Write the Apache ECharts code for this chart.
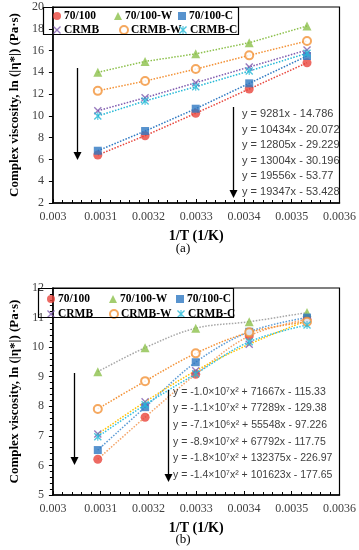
<!DOCTYPE html>
<html><head><meta charset="utf-8">
<script src="https://cdn.jsdelivr.net/npm/echarts@6/dist/echarts.min.js"></script>
<style>html,body{margin:0;padding:0;background:#fff}#c{width:359px;height:550px}</style>
</head><body><div id="c"></div>
<script>
// ---- data ----
const invT = [0.003094, 0.003193, 0.003299, 0.003411, 0.003532];
const seriesNames = ['70/100', '70/100-W', '70/100-C', 'CRMB', 'CRMB-W', 'CRMB-C'];
// chart (a)
const a_70100   = [6.41, 8.18, 10.24, 12.47, 14.88];
const a_70100W  = [14.0, 15.0, 15.7, 16.72, 18.25];
const a_70100C  = [6.80, 8.61, 10.66, 12.99, 15.50];
const a_CRMB    = [10.47, 11.67, 13.05, 14.49, 16.05];
const a_CRMBW   = [12.30, 13.20, 14.30, 15.56, 16.88];
const a_CRMBC   = [9.99, 11.37, 12.68, 14.12, 15.75];
// chart (b)
const b_70100   = [6.21, 7.63, 9.08, 10.38, 10.94];
const b_70100W  = [9.17, 9.98, 10.64, 10.86, 11.17];
const b_70100C  = [6.52, 7.97, 9.49, 10.52, 11.00];
const b_CRMB    = [7.06, 8.15, 9.20, 10.10, 10.90];
const b_CRMBW   = [7.91, 8.85, 9.79, 10.50, 10.86];
const b_CRMBC   = [6.97, 8.05, 9.10, 10.18, 10.75];
// equations
const eqA = ['y = 9281x - 14.786', 'y = 10434x - 20.072', 'y = 12805x - 29.229',
             'y = 13004x - 30.196', 'y = 19556x - 53.77', 'y = 19347x - 53.428'];
const eqB = ['y = -1.0×10⁷x² + 71667x - 115.33', 'y = -1.1×10⁷x² + 77289x - 129.38',
             'y = -7.1×10⁶x² + 55548x - 97.226', 'y = -8.9×10⁷x² + 67792x - 117.75',
             'y = -1.8×10⁷x² + 132375x - 226.97', 'y = -1.4×10⁷x² + 101623x - 177.65'];
const xTicks = {min: 0.003, max: 0.0036, interval: 0.0001};
const yTicksA = {min: 2, max: 20, interval: 2};
const yTicksB = {min: 5, max: 12, interval: 1};

// ---- styles ----
const XPATH = 'path://M0,1.2L1.2,0L5,3.8L8.8,0L10,1.2L6.2,5L10,8.8L8.8,10L5,6.2L1.2,10L0,8.8L3.8,5Z';
const STAR = 'path://M0,1.2L1.2,0L5,3.8L8.8,0L10,1.2L6.2,5L10,8.8L8.8,10L5,6.2L1.2,10L0,8.8L3.8,5Z M4.3,0L5.7,0L5.7,10L4.3,10Z';
const styles = {
  '70/100':   {color:'#E8453C', symbol:'circle', trendA:'#E8453C', trendB:'#F4A468'},
  '70/100-W': {color:'#8CC04B', symbol:'triangle', trendA:'#8CC04B', trendB:'#A6A6A6'},
  '70/100-C': {color:'#2E78C2', symbol:'rect', trendA:'#2E78C2', trendB:'#5B9BD5'},
  'CRMB':     {color:'#7E5AAE', symbol:XPATH, trendA:'#7E5AAE', trendB:'#FFC000'},
  'CRMB-W':   {color:'#F39237', symbol:'emptyCircle', trendA:'#F39237', trendB:'#F39237'},
  'CRMB-C':   {color:'#22B8D6', symbol:STAR, trendA:'#22B8D6', trendB:'#33C0E0'}
};
const dataA = {'70/100':a_70100,'70/100-W':a_70100W,'70/100-C':a_70100C,'CRMB':a_CRMB,'CRMB-W':a_CRMBW,'CRMB-C':a_CRMBC};
const dataB = {'70/100':b_70100,'70/100-W':b_70100W,'70/100-C':b_70100C,'CRMB':b_CRMB,'CRMB-W':b_CRMBW,'CRMB-C':b_CRMBC};

const serif = 'Liberation Serif';
const pair = arr => arr.map((v, i) => [invT[i], v]);

const series = [];
function addSeries(dataMap, gi, trendKey, smooth) {
  seriesNames.forEach(n => {
    const st = styles[n];
    series.push({type:'line', name:n + ' trend' + gi, xAxisIndex:gi, yAxisIndex:gi,
      data: pair(dataMap[n]), symbol:'none', smooth: smooth, z:2, silent:true,
      lineStyle:{color: st[trendKey], width:1.5, type:'dotted'}});
  });
  seriesNames.forEach(n => {
    const st = styles[n];
    const empty = st.symbol === 'emptyCircle';
    series.push({type:'scatter', name:n, xAxisIndex:gi, yAxisIndex:gi,
      data: pair(dataMap[n]), symbol: st.symbol,
      symbolSize: empty ? 8 : (st.symbol==='triangle' ? 9 : (st.symbol==='circle' ? 9 : 8)), z:5,
      itemStyle: empty ? {color: st.color, borderWidth:1.6} : {color: st.color}});
  });
}
addSeries(dataA, 0, 'trendA', false);
addSeries(dataB, 1, 'trendB', 0.35);

const legendStyle = {fontFamily: serif, fontWeight:'bold', fontSize:11.5, color:'#000'};
function legendItem(n, left, top) {
  const st = styles[n];
  const empty = st.symbol === 'emptyCircle';
  return {data:[{name:n, icon: st.symbol}],
    itemStyle: empty ? {color: st.color, borderColor: st.color, borderWidth:1.5} : {color: st.color},
    left:left, top:top, itemWidth:8, itemHeight:8, itemGap:4, padding:0,
    selectedMode:false, textStyle: Object.assign({padding:[0,0,0,-2]}, legendStyle)};
}
const legends = [
  legendItem('70/100', 53, 10), legendItem('70/100-W', 114, 10), legendItem('70/100-C', 178, 10),
  legendItem('CRMB', 53, 24), legendItem('CRMB-W', 119, 24), legendItem('CRMB-C', 179, 24),
  legendItem('70/100', 47, 293), legendItem('70/100-W', 109, 293), legendItem('70/100-C', 176, 293),
  legendItem('CRMB', 47, 308), legendItem('CRMB-W', 109, 308), legendItem('CRMB-C', 177, 308)
];

function xAxis(gi) {
  return {type:'value', gridIndex:gi, min:xTicks.min, max:xTicks.max, interval:xTicks.interval,
    name:'1/T (1/K)', nameLocation:'middle', nameGap: 26,
    nameTextStyle:{fontFamily:serif, fontWeight:'bold', fontSize:14, color:'#000'},
    axisLine:{lineStyle:{color:'#000', width:1.5}},
    axisTick:{inside:true, length:4, lineStyle:{color:'#000'}},
    minorTick:{show:true, splitNumber:5, length:3, lineStyle:{color:'#000'}},
    splitLine:{show:false},
    axisLabel:{fontFamily:serif, fontSize:12, color:'#404040', margin:8,
      formatter: v => String(Math.round(v*10000)/10000)}};
}
function yAxis(gi, t, minor) {
  return {type:'value', gridIndex:gi, min:t.min, max:t.max, interval:t.interval,
    name:'Complex viscosity, ln (|η*|) (Pa·s)', nameLocation:'middle', nameGap: gi===0?30:26,
    nameTextStyle:{fontFamily:serif, fontWeight:'bold', fontSize:13, color:'#000'},
    axisLine:{show:true, lineStyle:{color:'#000', width:1.5}},
    axisTick:{show:true, length:4, lineStyle:{color:'#000'}},
    minorTick:{show:minor, splitNumber:5, length:3, lineStyle:{color:'#000'}},
    splitLine:{show:false},
    axisLabel:{fontFamily:serif, fontSize:12, color:'#404040', margin:9}};
}

const graphics = [
  {type:'rect', shape:{x:43.5, y:7.5, width:195, height:27}, style:{fill:'none', stroke:'#000', lineWidth:1.2}, z:50},
  {type:'rect', shape:{x:38.5, y:288.5, width:195, height:29}, style:{fill:'none', stroke:'#000', lineWidth:1.2}, z:50},
  {type:'text', x:183, y:249, style:{text:'(a)', font:'13px "Liberation Serif"', fill:'#000', textAlign:'center', textVerticalAlign:'middle'}},
  {type:'text', x:183, y:540, style:{text:'(b)', font:'13px "Liberation Serif"', fill:'#000', textAlign:'center', textVerticalAlign:'middle'}}
];
function arrow(x, y1, y2) {
  graphics.push({type:'line', shape:{x1:x, y1:y1, x2:x, y2:y2-6}, style:{stroke:'#000', lineWidth:1.3}, z:40});
  graphics.push({type:'polygon', shape:{points:[[x-4, y2-8],[x+4, y2-8],[x, y2]]}, style:{fill:'#000'}, z:40});
}
arrow(77.5, 68, 160);
arrow(233.5, 107, 198);
arrow(74.5, 373, 465);
arrow(168.5, 390, 482);
eqA.forEach((t, i) => graphics.push({type:'text', x:242, y:114 + i*15.6,
  style:{text:t, font:'11px "Liberation Sans"', fill:'#404040', textVerticalAlign:'middle'}, z:45}));
eqB.forEach((t, i) => graphics.push({type:'text', x:173, y:392 + i*16.6,
  style:{text:t, font:'10.5px "Liberation Sans"', fill:'#404040', textVerticalAlign:'middle'}, z:45}));

const chart = echarts.init(document.getElementById('c'));
chart.setOption({
  animation:false,
  backgroundColor:'#fff',
  grid:[
    {left:43, top:7, width:299, height:196, show:true, borderColor:'#000', borderWidth:1.2, backgroundColor:'transparent'},
    {left:38, top:288, width:304, height:207, show:true, borderColor:'#000', borderWidth:1.2, backgroundColor:'transparent'}
  ],
  xAxis:[xAxis(0), xAxis(1)],
  yAxis:[yAxis(0, yTicksA, false), yAxis(1, yTicksB, true)],
  legend: legends,
  series: series,
  graphic: graphics
});
</script></body></html>
